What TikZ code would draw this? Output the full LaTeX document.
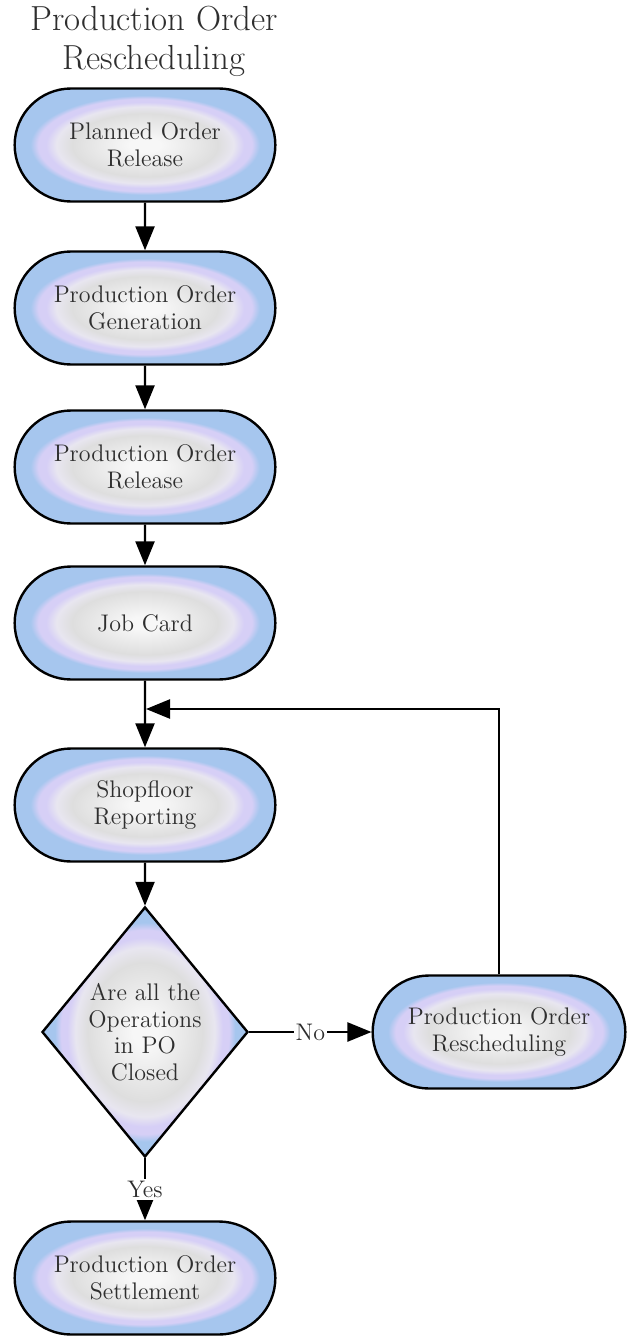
\documentclass[tikz,border=0pt]{standalone}
\usetikzlibrary{shapes.misc,shapes.geometric,arrows.meta,positioning}

\definecolor{ovblue}{HTML}{A6C6EE}
\definecolor{ovlav}{HTML}{D6CFF6}
\definecolor{ovpale}{HTML}{E8E6F0}
\definecolor{ovgray}{HTML}{DEDEDE}
\definecolor{ovcore}{HTML}{F7F7F7}
\definecolor{txtgray}{HTML}{2E2E2E}

\pgfdeclareradialshading{ovalfill}{\pgfpointorigin}{%
  color(0bp)=(ovcore); color(6bp)=(ovcore); color(28bp)=(ovgray);
  color(34bp)=(ovpale); color(38bp)=(ovlav); color(41bp)=(ovlav);
  color(44bp)=(ovblue); color(50bp)=(ovblue)}

% stretch the round shading over the whole node, so the rings follow its shape
\tikzset{
  oval shading/.style={fill=ovblue, path picture={%
    \pgfpointanchor{path picture bounding box}{south west}\pgfgetlastxy{\ovxa}{\ovya}%
    \pgfpointanchor{path picture bounding box}{north east}\pgfgetlastxy{\ovxb}{\ovyb}%
    \pgftransformshift{\pgfpoint{(\ovxa+\ovxb)/2}{(\ovya+\ovyb)/2}}%
    \pgftransformxscale{(\ovxb-\ovxa)/100.375}%
    \pgftransformyscale{(\ovyb-\ovya)/100.375}%
    \pgflowlevelsynccm
    \pgfuseshading{ovalfill}}},
  stadium/.style={rounded rectangle, draw=black, line width=1.2pt, oval shading,
    minimum width=137pt, minimum height=56.5pt,
    align=center, text=txtgray, font=\fontsize{12}{13.3}\selectfont},
  decision/.style={diamond, draw=black, line width=1.2pt, oval shading,
    minimum width=103pt, minimum height=125pt, inner sep=0pt},
  flow/.style={line width=1.2pt, -{Triangle[length=12pt,width=9.5pt]}},
  lbl/.style={fill=white, inner sep=1pt, text=txtgray,
    font=\fontsize{12}{13.3}\selectfont}
}

\begin{document}
\begin{tikzpicture}[x=0.5pt, y=-0.5pt]
  \useasboundingbox (0,0) rectangle (628,1338);

  % title
  \node[align=center, text=txtgray, font=\fontsize{17.4}{19.5}\selectfont] (title) at (154,41)
    {Production Order\\Rescheduling};

  % main flow
  \node[stadium] (planned) at (145,145) {Planned Order\\Release};
  \node[stadium] (gen) at (145,308) {Production Order\\Generation};
  \node[stadium] (release) at (145,467) {Production Order\\Release};
  \node[stadium] (jobcard) at (145,623) {Job Card};
  \node[stadium] (shopfloor) at (145,805) {Shopfloor\\Reporting};
  \node[decision, label={[align=center, text=txtgray,
      font=\fontsize{12}{13.3}\selectfont]center:Are all the\\Operations\\in PO\\Closed}]
    (closed) at (145,1032) {};
  \node[stadium, minimum width=133pt] (resched) at (499,1032) {Production Order\\Rescheduling};
  \node[stadium] (settle) at (145,1278) {Production Order\\Settlement};

  \coordinate (merge) at (146,709);

  \draw[flow] (planned) -- (gen);
  \draw[flow] (gen) -- (release);
  \draw[flow] (release) -- (jobcard);
  \draw[flow] (jobcard) -- (shopfloor);
  \draw[flow] (shopfloor) -- (closed);
  \draw[flow] (closed.east) -- node[lbl] {No} (resched.west);
  \draw[flow] (resched.north) |- (merge);
  \draw[flow] (closed.south) -- node[lbl] {Yes} (settle.north);
\end{tikzpicture}
\end{document}
